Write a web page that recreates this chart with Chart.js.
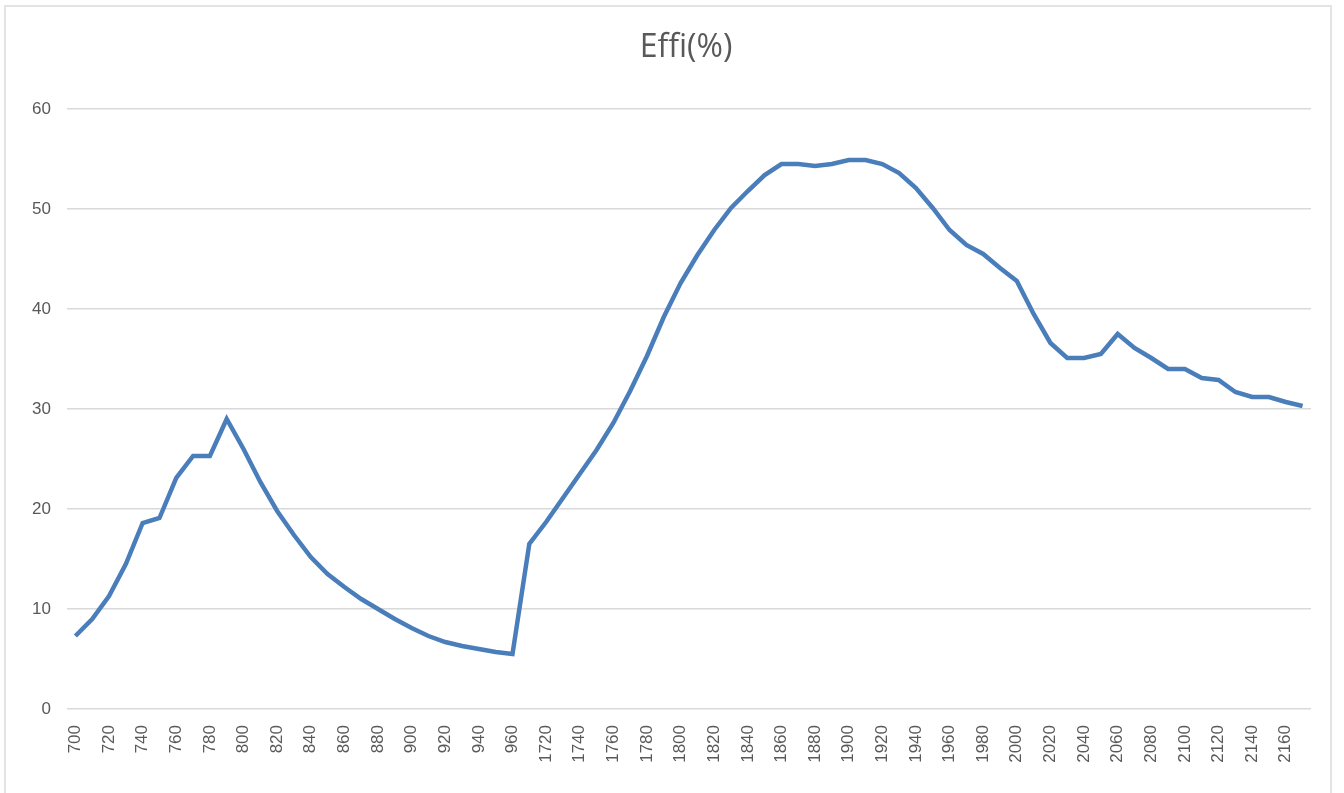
<!DOCTYPE html>
<html>
<head>
  <meta charset="utf-8">
  <title>Effi(%)</title>
  <script src="https://cdn.jsdelivr.net/npm/chart.js@4.4.0/dist/chart.umd.min.js"></script>
  <style>
    html, body { margin: 0; padding: 0; background: #ffffff; overflow: hidden; }
    #frame { position: absolute; left: 4px; top: 5px; width: 1324px; height: 800px; border: 2px solid #e3e3e3; }
    #wrap { position: absolute; left: 0; top: 0; width: 1344px; height: 793px; }
  </style>
</head>
<body>
  <div id="frame"></div>
  <div id="wrap"><canvas id="myChart" width="1344" height="793"></canvas></div>
  <script>
    // wavelengths (two ranges), every other one labelled
    let categories = ["700", "710", "720", "730", "740", "750", "760", "770", "780", "790",
      "800", "810", "820", "830", "840", "850", "860", "870", "880", "890",
      "900", "910", "920", "930", "940", "950", "960",
      "1710", "1720", "1730", "1740", "1750", "1760", "1770", "1780", "1790",
      "1800", "1810", "1820", "1830", "1840", "1850", "1860", "1870", "1880", "1890",
      "1900", "1910", "1920", "1930", "1940", "1950", "1960", "1970", "1980", "1990",
      "2000", "2010", "2020", "2030", "2040", "2050", "2060", "2070", "2080", "2090",
      "2100", "2110", "2120", "2130", "2140", "2150", "2160", "2170"];

    let effi = [7.3, 9.0, 11.3, 14.5, 18.6, 19.1, 23.1, 25.3, 25.3, 29.0,
      26.0, 22.7, 19.8, 17.4, 15.2, 13.5, 12.2, 11.0, 10.0, 9.0,
      8.1, 7.3, 6.7, 6.3, 6.0, 5.7, 5.5,
      16.5, 18.7, 21.1, 23.5, 25.9, 28.6, 31.8, 35.3, 39.2,
      42.6, 45.4, 47.9, 50.1, 51.8, 53.4, 54.5, 54.5, 54.3, 54.5,
      54.9, 54.9, 54.5, 53.6, 52.1, 50.1, 47.9, 46.4, 45.5, 44.1,
      42.8, 39.5, 36.6, 35.1, 35.1, 35.5, 37.5, 36.1, 35.1, 34.0,
      34.0, 33.1, 32.9, 31.7, 31.2, 31.2, 30.7, 30.3];

    let yTicks = [0, 10, 20, 30, 40, 50, 60];

    var ctx = document.getElementById('myChart').getContext('2d');
    var myChart = new Chart(ctx, {
      type: 'line',
      data: {
        labels: categories,
        datasets: [{
          label: "Effi(%)",
          data: effi,
          borderColor: "#4a7ebb",
          borderWidth: 4.5,
          pointRadius: 0,
          tension: 0,
          fill: false
        }]
      },
      options: {
        responsive: false,
        animation: false,
        layout: { padding: { left: 28, right: 0, top: 0, bottom: 0 } },
        plugins: {
          legend: { display: false },
          tooltip: { enabled: false },
          title: {
            display: true,
            text: "Effi(%)",
            color: "#595959",
            font: { family: "'Open Sans', 'Liberation Sans', sans-serif", size: 32, weight: 'normal' },
            padding: { top: 29, bottom: 41.6 }
          }
        },
        scales: {
          x: {
            offset: true,
            grid: { display: false },
            border: { display: false },
            afterFit: function (scale) { scale.height = 84; },
            ticks: {
              autoSkip: false,
              maxRotation: 90,
              minRotation: 90,
              padding: 8,
              color: "#595959",
              font: { family: "'Liberation Sans', Arial, sans-serif", size: 17 },
              callback: function (value, index) {
                return index % 2 === 0 ? categories[index] : '';
              }
            }
          },
          y: {
            min: 0,
            max: 60,
            afterFit: function (scale) { scale.width = 39; },
            afterBuildTicks: function (scale) {
              scale.ticks = yTicks.map(v => ({ value: v }));
            },
            grid: { color: "#d9d9d9", lineWidth: 1.5, drawTicks: false },
            border: { display: false },
            ticks: {
              padding: 16,
              color: "#595959",
              font: { family: "'Liberation Sans', Arial, sans-serif", size: 17 }
            }
          },
          // empty right-hand margin so the title centres like the original
          yRight: {
            position: 'right',
            min: 0,
            max: 60,
            afterFit: function (scale) { scale.width = 33; },
            grid: { display: false },
            border: { display: false },
            ticks: { display: false }
          }
        }
      }
    });
  </script>
</body>
</html>
